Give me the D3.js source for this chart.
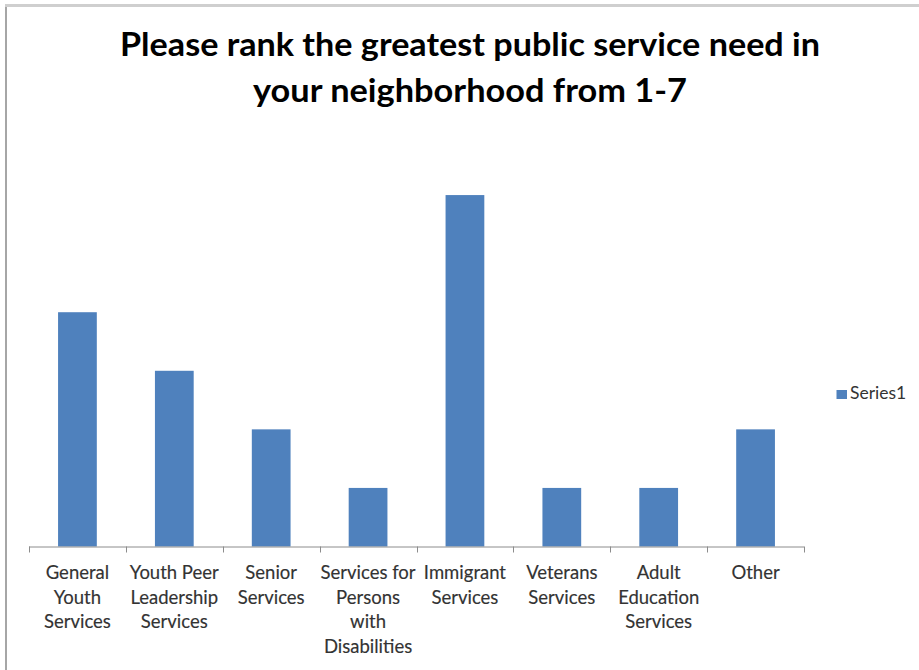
<!DOCTYPE html>
<html>
<head>
<meta charset="utf-8">
<script src="https://cdn.jsdelivr.net/npm/d3@7"></script>
<style>
  html, body { margin: 0; padding: 0; background: #fff; }
  svg { display: block; }
</style>
</head>
<body>
<svg id="chart" width="919" height="670"></svg>
<script>
// Survey answers: how often each service was ranked as the greatest need
const categories = [
  ["General", "Youth", "Services"],
  ["Youth Peer", "Leadership", "Services"],
  ["Senior", "Services"],
  ["Services for", "Persons", "with", "Disabilities"],
  ["Immigrant", "Services"],
  ["Veterans", "Services"],
  ["Adult", "Education", "Services"],
  ["Other"]
];
const series1 = [4, 3, 2, 1, 6, 1, 1, 2];
const seriesName = "Series1";
const titleLines = [
  "Please rank the greatest public service need in",
  "your neighborhood from 1-7"
];
const titleWidths = [700, 434];

const svg = d3.select("#chart");
const barColor = "#4f81bd";
const font = "Lato, 'Open Sans', sans-serif";

// outer chart frame (left and top edges)
svg.append("line").attr("x1", 6).attr("x2", 6).attr("y1", 5).attr("y2", 670)
  .attr("stroke", "#a6a6a6").attr("stroke-width", 2);
svg.append("line").attr("x1", 5).attr("x2", 919).attr("y1", 5.5).attr("y2", 5.5)
  .attr("stroke", "#cfcfcf").attr("stroke-width", 3);

// title
svg.append("g").selectAll("text").data(titleLines).join("text")
  .attr("x", 470)
  .attr("y", (d, i) => 56 + i * 46)
  .attr("text-anchor", "middle")
  .attr("font-family", font)
  .attr("font-weight", "bold")
  .attr("font-size", 32.5)
  .attr("textLength", (d, i) => titleWidths[i])
  .attr("lengthAdjust", "spacingAndGlyphs")
  .attr("fill", "#000")
  .text(d => d);

const plot = { left: 29, right: 804, top: 136.5, bottom: 546.5 };
const keys = categories.map((c, i) => i);

// category bands (tick marks sit on band edges)
const xCat = d3.scaleBand().domain(keys).range([plot.left, plot.right]).padding(0);
// bar positions within bands: bar width = 40% of a category step
const xBar = d3.scaleBand().domain(keys).range([plot.left, plot.right])
  .paddingInner(0.6).paddingOuter(0.3);
const y = d3.scaleLinear().domain([0, 7]).range([plot.bottom, plot.top]);

// bars
svg.append("g").selectAll("rect").data(series1).join("rect")
  .attr("x", (d, i) => xBar(i))
  .attr("width", xBar.bandwidth())
  .attr("y", d => y(d))
  .attr("height", d => y(0) - y(d))
  .attr("fill", barColor);

// category axis
const axisColor = "#8c8c8c";
const axis = svg.append("g");
axis.append("line")
  .attr("x1", plot.left).attr("x2", plot.right)
  .attr("y1", plot.bottom + 0.5).attr("y2", plot.bottom + 0.5)
  .attr("stroke", axisColor).attr("stroke-width", 1);
const tickXs = keys.map(k => xCat(k)).concat([xCat(keys[keys.length - 1]) + xCat.bandwidth()]);
axis.selectAll("line.tick").data(tickXs).join("line")
  .attr("class", "tick")
  .attr("x1", d => Math.round(d) + 0.5).attr("x2", d => Math.round(d) + 0.5)
  .attr("y1", plot.bottom).attr("y2", plot.bottom + 6)
  .attr("stroke", axisColor).attr("stroke-width", 1);

// wrapped category labels
const labels = axis.selectAll("text.cat").data(categories).join("text")
  .attr("class", "cat")
  .attr("text-anchor", "middle")
  .attr("font-family", font)
  .attr("font-size", 18.5)
  .attr("fill", "#333")
  .attr("stroke", "#333")
  .attr("stroke-width", 0.15);
labels.selectAll("tspan").data((d, i) => d.map(line => ({ line, i }))).join("tspan")
  .attr("x", d => xCat(d.i) + xCat.bandwidth() / 2)
  .attr("y", (d, j) => 579 + j * 24.7)
  .text(d => d.line);

// legend
const legend = svg.append("g");
legend.append("rect")
  .attr("x", 836.5).attr("y", 390).attr("width", 10.5).attr("height", 9)
  .attr("fill", barColor);
legend.append("text")
  .attr("x", 850).attr("y", 399)
  .attr("font-family", font)
  .attr("font-size", 17.5)
  .attr("fill", "#333")
  .text(seriesName);
</script>
</body>
</html>
